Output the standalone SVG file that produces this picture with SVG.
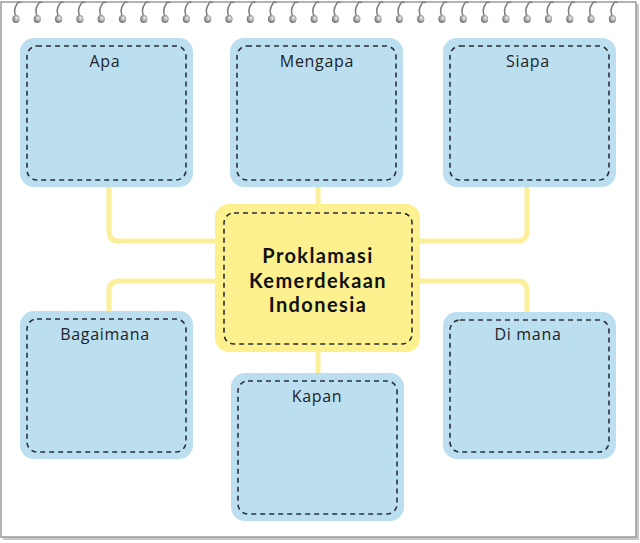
<svg xmlns="http://www.w3.org/2000/svg" width="640" height="543" viewBox="0 0 640 543">
<defs>
<style>
.page{fill:#ffffff;stroke:#9a9a9a;stroke-width:1.5}
.box{fill:#bcdff0}
.cbox{fill:#fdf08e}
.dash{fill:none;stroke:#2a2f36;stroke-width:1.6;stroke-dasharray:5 4}
.conn{fill:none;stroke:#fcef9c;stroke-width:5}
.lbl{font-family:"Open Sans","Noto Sans",sans-serif;font-size:16px;letter-spacing:0.7px;fill:#1e2329;text-anchor:middle}
.title{font-family:Lato,"Open Sans",sans-serif;font-size:20px;font-weight:700;letter-spacing:1.4px;fill:#111;text-anchor:middle}
.ring{fill:none;stroke:#7d7d7d;stroke-width:1.5}
.ringb{fill:#8c8c8c}
</style>
<radialGradient id="rg" cx="0.6" cy="0.4" r="0.6">
<stop offset="0" stop-color="#f2f2f2"/>
<stop offset="0.5" stop-color="#b0b0b0"/>
<stop offset="1" stop-color="#6e6e6e"/>
</radialGradient>
<g id="r">
<path class="ring" d="M0,16 C-3,11 -1,7 1,4 C2,2 4,1 5,3"/>
<ellipse cx="0" cy="19" rx="3.6" ry="4" fill="url(#rg)"/>
</g>
</defs>
<rect x="0" y="0" width="640" height="543" fill="#ffffff"/>
<rect x="3" y="4" width="636" height="536" fill="#c8c8c8"/>
<rect class="page" x="1" y="2" width="635" height="535"/>
<g id="rings">
<use href="#r" x="16" y="0"/><use href="#r" x="37.3" y="0"/><use href="#r" x="58.6" y="0"/><use href="#r" x="79.9" y="0"/><use href="#r" x="101.2" y="0"/><use href="#r" x="122.5" y="0"/><use href="#r" x="143.8" y="0"/><use href="#r" x="165.1" y="0"/><use href="#r" x="186.4" y="0"/><use href="#r" x="207.7" y="0"/><use href="#r" x="229" y="0"/><use href="#r" x="250.3" y="0"/><use href="#r" x="271.6" y="0"/><use href="#r" x="292.9" y="0"/><use href="#r" x="314.2" y="0"/><use href="#r" x="335.5" y="0"/><use href="#r" x="356.8" y="0"/><use href="#r" x="378.1" y="0"/><use href="#r" x="399.4" y="0"/><use href="#r" x="420.7" y="0"/><use href="#r" x="442" y="0"/><use href="#r" x="463.3" y="0"/><use href="#r" x="484.6" y="0"/><use href="#r" x="505.9" y="0"/><use href="#r" x="527.2" y="0"/><use href="#r" x="548.5" y="0"/><use href="#r" x="569.8" y="0"/><use href="#r" x="591.1" y="0"/><use href="#r" x="612.4" y="0"/>
</g>
<g id="connectors">
<path class="conn" d="M109,187 V231 Q109,241 119,241 H216"/>
<path class="conn" d="M318,187 V205"/>
<path class="conn" d="M527,187 V231 Q527,241 517,241 H419"/>
<path class="conn" d="M216,281 H119 Q109,281 109,291 V312"/>
<path class="conn" d="M419,281 H517 Q527,281 527,291 V313"/>
<path class="conn" d="M318,351 V374"/>
</g>
<g id="apa">
<rect class="box" x="20" y="38" width="173" height="149" rx="14"/>
<rect class="dash" x="27" y="46" width="159" height="134" rx="10"/>
<text class="lbl" x="105" y="67">Apa</text>
</g>
<g id="mengapa">
<rect class="box" x="230" y="38" width="173" height="149" rx="14"/>
<rect class="dash" x="237" y="46" width="159" height="134" rx="10"/>
<text class="lbl" x="317" y="67">Mengapa</text>
</g>
<g id="siapa">
<rect class="box" x="443" y="38" width="173" height="149" rx="14"/>
<rect class="dash" x="450" y="46" width="159" height="134" rx="10"/>
<text class="lbl" x="528" y="67">Siapa</text>
</g>
<g id="pusat">
<rect class="cbox" x="215" y="204" width="205" height="148" rx="14"/>
<rect class="dash" x="224" y="213" width="188" height="131" rx="10"/>
<text class="title" x="318" y="263">Proklamasi</text>
<text class="title" x="318" y="287.5">Kemerdekaan</text>
<text class="title" x="318" y="312">Indonesia</text>
</g>
<g id="bagaimana">
<rect class="box" x="20" y="311" width="173" height="148" rx="14"/>
<rect class="dash" x="27" y="319" width="159" height="133" rx="10"/>
<text class="lbl" x="105" y="340">Bagaimana</text>
</g>
<g id="dimana">
<rect class="box" x="443" y="312" width="173" height="147" rx="14"/>
<rect class="dash" x="450" y="320" width="159" height="132" rx="10"/>
<text class="lbl" x="528" y="340">Di mana</text>
</g>
<g id="kapan">
<rect class="box" x="231" y="373" width="173" height="148" rx="14"/>
<rect class="dash" x="238" y="381" width="159" height="133" rx="10"/>
<text class="lbl" x="317" y="402">Kapan</text>
</g>
</svg>
